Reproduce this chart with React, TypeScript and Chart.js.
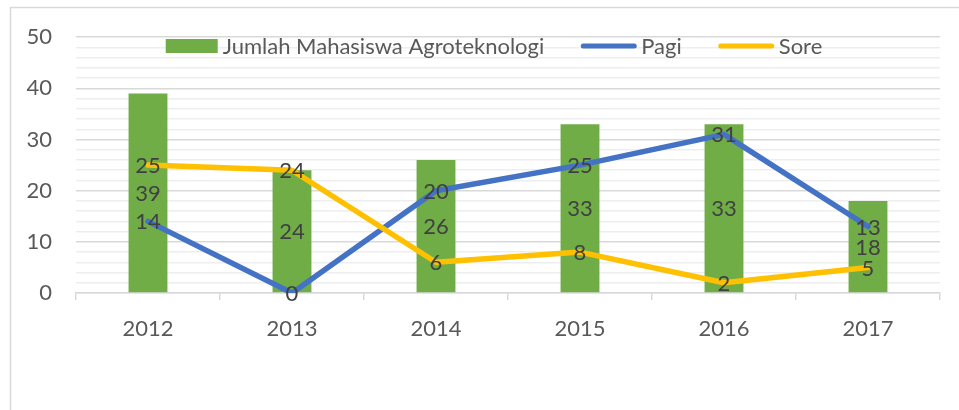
import React, { useEffect, useRef } from "react";
import { Chart, registerables } from "chart.js";

Chart.register(...registerables);

const categories = ["2012", "2013", "2014", "2015", "2016", "2017"];
const mahasiswa = [39, 24, 26, 33, 33, 18];
const pagi = [14, 0, 20, 25, 31, 13];
const sore = [25, 24, 6, 8, 2, 5];
const seriesNames = ["Jumlah Mahasiswa Agroteknologi", "Pagi", "Sore"];
const yMax = 50;
const yMajorStep = 10;
const yMinorStep = 2;

const FONT_FAMILY = "Lato, 'Open Sans', sans-serif";
const FONT_SIZE = 22;
const GREEN = "#70AD47";
const BLUE = "#4472C4";
const GOLD = "#FFC000";

const borderPlugin = {
  id: "outerBorder",
  beforeDraw(chart: any) {
    const ctx = chart.ctx;
    ctx.save();
    ctx.fillStyle = "#ffffff";
    ctx.fillRect(0, 0, chart.width, chart.height);
    ctx.strokeStyle = "#d9d9d9";
    ctx.lineWidth = 1.5;
    ctx.strokeRect(10.5, 7.5, chart.width + 20, chart.height + 20);
    ctx.restore();
  },
};

const labelsPlugin = {
  id: "valueLabels",
  afterDatasetsDraw(chart: any) {
    const ctx = chart.ctx;
    ctx.save();
    ctx.font = `${FONT_SIZE}px ${FONT_FAMILY}`;
    ctx.fillStyle = "#404040";
    ctx.textAlign = "center";
    ctx.textBaseline = "middle";
    chart.data.datasets.forEach((ds: any, i: number) => {
      const meta = chart.getDatasetMeta(i);
      meta.data.forEach((el: any, j: number) => {
        const v = ds.data[j];
        let y = el.y;
        if (ds.type === "bar") y = (el.y + el.base) / 2;
        ctx.fillText(String(v), el.x, y + 1);
      });
    });
    ctx.restore();
  },
};

const legendPlugin = {
  id: "customLegend",
  afterDraw(chart: any) {
    const ctx = chart.ctx;
    ctx.save();
    ctx.font = `${FONT_SIZE}px ${FONT_FAMILY}`;
    const symW = [52, 55, 55];
    const gapText = 5;
    const gapItem = 37;
    const widths = seriesNames.map((n) => ctx.measureText(n).width);
    let total = 0;
    widths.forEach((w, i) => {
      total += symW[i] + gapText + w;
      if (i < widths.length - 1) total += gapItem;
    });
    let x = 494 - total / 2;
    const cy = 46;
    const colors = [GREEN, BLUE, GOLD];
    seriesNames.forEach((n, i) => {
      if (i === 0) {
        ctx.fillStyle = colors[i];
        ctx.fillRect(x, cy - 7, symW[i], 14);
      } else {
        ctx.strokeStyle = colors[i];
        ctx.lineWidth = 5;
        ctx.lineCap = "round";
        ctx.beginPath();
        ctx.moveTo(x + 2, cy);
        ctx.lineTo(x + symW[i] - 2, cy);
        ctx.stroke();
      }
      x += symW[i] + gapText;
      ctx.fillStyle = "#595959";
      ctx.textAlign = "left";
      ctx.textBaseline = "middle";
      ctx.fillText(n, x, cy + 1);
      x += widths[i] + gapItem;
    });
    ctx.restore();
  },
};

export default function App() {
  const ref = useRef<HTMLCanvasElement | null>(null);

  useEffect(() => {
    document.body.style.margin = "0";
    const canvas = ref.current;
    if (!canvas) return;
    const chart = new Chart(canvas, {
      type: "bar",
      data: {
        labels: categories,
        datasets: [
          {
            type: "bar",
            label: seriesNames[0],
            data: mahasiswa,
            backgroundColor: GREEN,
            barPercentage: 0.27,
            categoryPercentage: 1,
            order: 3,
          } as any,
          {
            type: "line",
            label: seriesNames[1],
            data: pagi,
            borderColor: BLUE,
            backgroundColor: BLUE,
            borderWidth: 5.5,
            pointRadius: 0,
            borderJoinStyle: "round",
            borderCapStyle: "round",
            tension: 0,
            order: 2,
          },
          {
            type: "line",
            label: seriesNames[2],
            data: sore,
            borderColor: GOLD,
            backgroundColor: GOLD,
            borderWidth: 5.5,
            pointRadius: 0,
            borderJoinStyle: "round",
            borderCapStyle: "round",
            tension: 0,
            order: 1,
          },
        ],
      },
      options: {
        responsive: false,
        animation: false,
        devicePixelRatio: 1,
        layout: { padding: { top: 37, right: 19, left: 0, bottom: 0 } },
        plugins: {
          legend: { display: false },
          tooltip: { enabled: false },
          title: { display: false },
        },
        scales: {
          x: {
            offset: true,
            grid: {
              offset: true,
              drawOnChartArea: false,
              drawTicks: true,
              tickLength: 7,
              color: "#d9d9d9",
              lineWidth: 1.5,
            },
            border: { color: "#d9d9d9", width: 1.5 },
            ticks: {
              color: "#595959",
              font: { family: FONT_FAMILY, size: FONT_SIZE },
              padding: 16,
              maxRotation: 0,
            },
            afterFit: (s: any) => {
              s.height = 117;
            },
          },
          y: {
            min: 0,
            max: yMax,
            grid: {
              drawTicks: false,
              color: (c: any) =>
                c.tick && c.tick.value % yMajorStep === 0 ? "#d9d9d9" : "#eeeeee",
              lineWidth: 1.5,
            },
            border: { display: false },
            ticks: {
              stepSize: yMinorStep,
              autoSkip: false,
              color: "#595959",
              font: { family: FONT_FAMILY, size: FONT_SIZE },
              padding: 24,
              callback: (v: any) => (Number(v) % yMajorStep === 0 ? String(v) : ""),
            },
            afterFit: (s: any) => {
              s.width = 76;
            },
          },
        },
      },
      plugins: [borderPlugin, labelsPlugin, legendPlugin],
    });
    return () => chart.destroy();
  }, []);

  return (
    <div style={{ width: 959, height: 410, position: "relative" }}>
      <canvas ref={ref} width={959} height={410} style={{ display: "block" }} />
    </div>
  );
}
